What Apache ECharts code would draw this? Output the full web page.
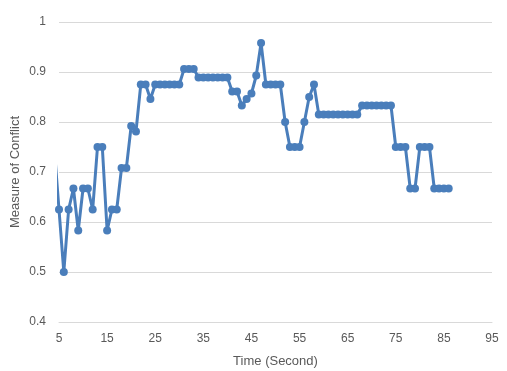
<!DOCTYPE html>
<html>
<head>
<meta charset="utf-8">
<script src="https://cdn.jsdelivr.net/npm/echarts@6/dist/echarts.min.js"></script>
<style>
  html, body { margin: 0; padding: 0; background: #fff; }
  #chart { width: 507px; height: 371px; }
</style>
</head>
<body>
<div id="chart"></div>
<script>
// time in seconds (4 lies just left of the axis, clipped like in the original)
const seconds = [
  4, 5, 6, 7, 8, 9, 10, 11, 12, 13, 14, 15, 16, 17, 18, 19, 20, 21, 22, 23, 24,
  25, 26, 27, 28, 29, 30, 31, 32, 33, 34, 35, 36, 37, 38, 39, 40, 41, 42, 43, 44,
  45, 46, 47, 48, 49, 50, 51, 52, 53, 54, 55, 56, 57, 58, 59, 60, 61, 62, 63, 64,
  65, 66, 67, 68, 69, 70, 71, 72, 73, 74, 75, 76, 77, 78, 79, 80, 81, 82, 83, 84,
  85, 86
]
const conflict = [
  0.75, 0.625, 0.5, 0.625, 0.667, 0.583, 0.667, 0.667, 0.625, 0.75, 0.75, 0.583, 0.625, 0.625, 0.708, 0.708, 0.792, 0.781, 0.875, 0.875, 0.846,
  0.875, 0.875, 0.875, 0.875, 0.875, 0.875, 0.906, 0.906, 0.906, 0.889, 0.889, 0.889, 0.889, 0.889, 0.889, 0.889, 0.861, 0.861, 0.833, 0.846,
  0.857, 0.893, 0.958, 0.875, 0.875, 0.875, 0.875, 0.8, 0.75, 0.75, 0.75, 0.8, 0.85, 0.875, 0.815, 0.815, 0.815, 0.815, 0.815, 0.815,
  0.815, 0.815, 0.815, 0.833, 0.833, 0.833, 0.833, 0.833, 0.833, 0.833, 0.75, 0.75, 0.75, 0.667, 0.667, 0.75, 0.75, 0.75, 0.667, 0.667,
  0.667, 0.667
]

const LABEL = { color: '#595959', fontSize: 12, fontFamily: 'Liberation Sans' }
const NAME = { color: '#595959', fontSize: 13, fontFamily: 'Liberation Sans' }
const GRID_LINE = { lineStyle: { color: '#d9d9d9', width: 1 } }

const chart = echarts.init(document.getElementById('chart'))
chart.setOption({
  animation: false,
  grid: { left: 59, right: 15, top: 22, bottom: 49, outerBoundsMode: 'none' },
  xAxis: {
    type: 'value',
    min: 5, max: 95, interval: 10,
    name: 'Time (Second)',
    nameLocation: 'middle',
    nameGap: 33,
    nameTextStyle: NAME,
    axisLine: { show: true, lineStyle: { color: '#d9d9d9' } },
    axisTick: { show: false },
    axisLabel: { ...LABEL, margin: 11 },
    splitLine: { show: false }
  },
  yAxis: {
    type: 'value',
    min: 0.4, max: 1, interval: 0.1,
    name: 'Measure of Conflict',
    nameLocation: 'middle',
    nameGap: 37,
    nameMoveOverlap: false,
    nameTextStyle: NAME,
    axisLine: { show: false },
    axisTick: { show: false },
    axisLabel: { ...LABEL, margin: 13, formatter: v => (v === 1 ? '1' : v.toFixed(1)) },
    splitLine: GRID_LINE
  },
  series: [{
    type: 'line',
    clip: true,
    data: seconds.map((s, i) => [s, conflict[i]]),
    symbol: 'circle',
    symbolSize: 8,
    lineStyle: { color: '#4a7ebb', width: 3 },
    itemStyle: { color: '#4a7ebb' }
  }]
})
</script>
</body>
</html>
